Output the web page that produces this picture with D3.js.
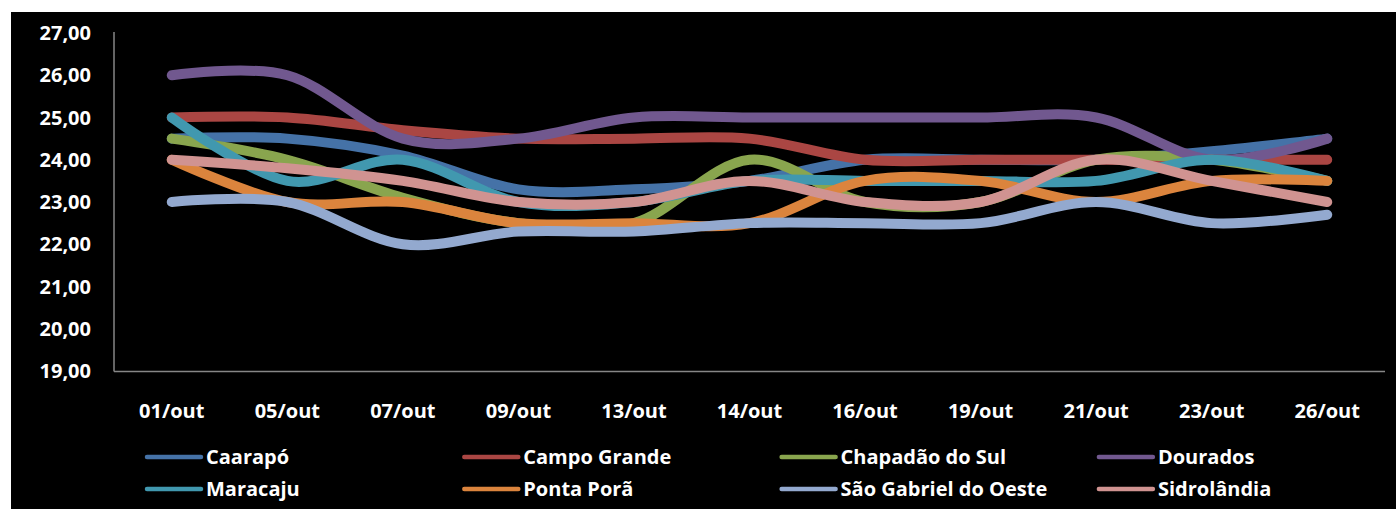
<!DOCTYPE html>
<html>
<head>
<meta charset="utf-8">
<script src="https://cdn.jsdelivr.net/npm/d3@7"></script>
<style>
  body { margin: 0; background: #fff; }
  text { font-family: "Open Sans", Lato, sans-serif; font-weight: bold; fill: #fff; }
</style>
</head>
<body>
<svg id="chart" width="1396" height="509"></svg>
<script>
// dates on the x axis
const dates = ['01/out', '05/out', '07/out', '09/out', '13/out', '14/out', '16/out', '19/out', '21/out', '23/out', '26/out'];
const yTicks = [19, 20, 21, 22, 23, 24, 25, 26, 27];

// one array per city
const caarapo      = [24.5, 24.5, 24.1, 23.3, 23.3, 23.5, 24.0, 24.0, 24.0, 24.2, 24.5];
const campoGrande  = [25.0, 25.0, 24.7, 24.5, 24.5, 24.5, 24.0, 24.0, 24.0, 24.0, 24.0];
const chapadao     = [24.5, 24.0, 23.1, 22.5, 22.5, 24.0, 23.0, 23.0, 24.0, 24.0, 23.5];
const dourados     = [26.0, 26.0, 24.5, 24.5, 25.0, 25.0, 25.0, 25.0, 25.0, 24.0, 24.5];
const maracaju     = [25.0, 23.5, 24.0, 23.0, 23.0, 23.5, 23.5, 23.5, 23.5, 24.0, 23.5];
const pontaPora    = [24.0, 23.0, 23.0, 22.5, 22.5, 22.5, 23.5, 23.5, 23.0, 23.5, 23.5];
const saoGabriel   = [23.0, 23.0, 22.0, 22.3, 22.3, 22.5, 22.5, 22.5, 23.0, 22.5, 22.7];
const sidrolandia  = [24.0, 23.8, 23.5, 23.0, 23.0, 23.5, 23.0, 23.0, 24.0, 23.5, 23.0];

const cities = ['Caarapó', 'Campo Grande', 'Chapadão do Sul', 'Dourados', 'Maracaju', 'Ponta Porã', 'São Gabriel do Oeste', 'Sidrolândia'];
const colors = ['#4572A7', '#AA4643', '#89A54E', '#71588F', '#4198AF', '#DB843D', '#93A9CF', '#D09391'];

const series = [caarapo, campoGrande, chapadao, dourados, maracaju, pontaPora, saoGabriel, sidrolandia]
    .map((values, i) => ({ name: cities[i], color: colors[i], values }));

const svg = d3.select('#chart');

svg.append('rect')
    .attr('x', 11).attr('y', 12)
    .attr('width', 1385).attr('height', 497)
    .attr('fill', '#000');

const x = d3.scaleBand().domain(dates).range([114, 1385]);
const y = d3.scaleLinear().domain([19, 27]).range([371, 33]);

// y labels
svg.append('g')
    .selectAll('text')
    .data(yTicks)
    .join('text')
    .attr('x', 91)
    .attr('y', d => y(d))
    .attr('dy', '0.36em')
    .attr('text-anchor', 'end')
    .attr('font-size', 20)
    .text(d => d3.format('.2f')(d).replace('.', ','));

// x labels
svg.append('g')
    .selectAll('text')
    .data(dates)
    .join('text')
    .attr('x', d => x(d) + x.bandwidth() / 2)
    .attr('y', 411)
    .attr('dy', '0.36em')
    .attr('text-anchor', 'middle')
    .attr('font-size', 20)
    .text(d => d);

// axis lines
svg.append('line')
    .attr('x1', 114).attr('x2', 114)
    .attr('y1', 32).attr('y2', 371.5)
    .attr('stroke', '#868686').attr('stroke-width', 1.5);
svg.append('line')
    .attr('x1', 114).attr('x2', 1385)
    .attr('y1', 371.5).attr('y2', 371.5)
    .attr('stroke', '#868686').attr('stroke-width', 1.5);

const line = d3.line()
    .x((d, i) => x(dates[i]) + x.bandwidth() / 2)
    .y(d => y(d))
    .curve(d3.curveCatmullRom.alpha(0));

svg.append('g')
    .selectAll('path')
    .data(series)
    .join('path')
    .attr('d', d => line(d.values))
    .attr('fill', 'none')
    .attr('stroke', d => d.color)
    .attr('stroke-width', 10)
    .attr('stroke-linecap', 'round')
    .attr('stroke-linejoin', 'round');

// legend, 4 columns x 2 rows
const legend = svg.append('g')
    .selectAll('g')
    .data(series)
    .join('g')
    .attr('transform', (d, i) => `translate(${147 + (i % 4) * 317.3},${457 + Math.floor(i / 4) * 32})`);

legend.append('line')
    .attr('x1', 0).attr('x2', 54)
    .attr('stroke', d => d.color)
    .attr('stroke-width', 4.5)
    .attr('stroke-linecap', 'round');

legend.append('text')
    .attr('x', 59)
    .attr('dy', '0.36em')
    .attr('font-size', 20)
    .text(d => d.name);
</script>
</body>
</html>
